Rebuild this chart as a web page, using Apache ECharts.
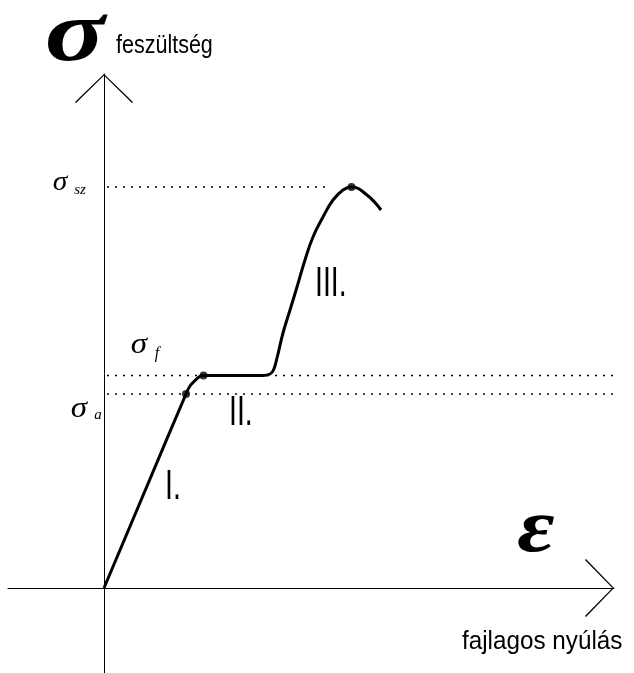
<!DOCTYPE html>
<html>
<head>
<meta charset="utf-8">
<script src="https://cdn.jsdelivr.net/npm/echarts@6/dist/echarts.min.js"></script>
<style>
  html, body { margin: 0; padding: 0; background: #fff; }
  #chart { width: 634px; height: 673px; }
</style>
</head>
<body>
<div id="chart"></div>
<script>
// Stress–strain curve of a ductile steel specimen (arbitrary units).
const strain = [0, 8.2, 8.6, 9.1, 9.5, 9.95, 15.9, 16.6, 16.95, 17.3, 17.9, 18.6, 19.3, 20.1, 20.9, 21.9, 22.9, 23.9, 24.75, 26.3, 27.7];
const stress = [0, 19.4, 20.2, 20.75, 21.1, 21.25, 21.25, 21.4, 21.8, 23.0, 25.5, 27.8, 30.1, 32.8, 35.1, 37.1, 38.8, 39.8, 40.1, 39.3, 37.8];

// Characteristic points on the curve: σa, σf, σsz
const keyPointIndex = [1, 5, 18];

// Dotted guides: stress level and where each guide stops along the strain axis
const guideLevels = [40.1, 21.25, 19.4];
const guideEnds = [22.3, 53, 53];
const guideStart = 0.3;

// Axis extents
const strainMin = -9.6, strainMax = 51;
const stressMin = -8.5, stressMax = 51.4;

const serif = "'Liberation Serif', 'Times New Roman', serif";
const sans = "'Liberation Sans', Arial, sans-serif";

// Open chevron arrowhead (pointing up in its own frame)
const chevron = 'path://M29 0 L58 28 L57 29 L29 1.6 L1 29 L0 28 Z';

const curve = strain.map((x, i) => [x, stress[i]]);
const keyPoints = keyPointIndex.map(i => [strain[i], stress[i]]);

const guideSeries = guideLevels.map((lvl, i) => ({
  type: 'line',
  data: [[guideStart, lvl], [guideEnds[i], lvl]],
  showSymbol: false,
  clip: false,
  silent: true,
  z: 1,
  lineStyle: { color: '#000', width: 1.3, type: [2, 6] }
}));

const axisCommon = {
  type: 'value',
  axisLine: {
    show: true,
    onZero: true,
    symbol: ['none', chevron],
    symbolSize: [58, 29],
    symbolOffset: [0, -14.5],
    lineStyle: { color: '#000', width: 1 }
  },
  axisTick: { show: false },
  axisLabel: { show: false },
  splitLine: { show: false }
};

// Text helper; sx squeezes or widens the glyphs horizontally
function txt(text, x, y, font, align, sx) {
  return {
    type: 'text', x, y, silent: true,
    scaleX: sx || 1,
    style: {
      text, font, fill: '#000',
      textAlign: align || 'center', align: align || 'center',
      textVerticalAlign: 'middle', verticalAlign: 'middle'
    }
  };
}

const chart = echarts.init(document.getElementById('chart'));
chart.setOption({
  animation: false,
  backgroundColor: '#fff',
  grid: { left: 8, right: 20, top: 74, bottom: 0, containLabel: false },
  xAxis: Object.assign({}, axisCommon, { min: strainMin, max: strainMax }),
  yAxis: Object.assign({}, axisCommon, { min: stressMin, max: stressMax }),
  series: guideSeries.concat([
    {
      type: 'line',
      data: curve,
      showSymbol: false,
      smooth: 0.45,
      z: 3,
      lineStyle: { color: '#000', width: 3 }
    },
    {
      type: 'scatter',
      data: keyPoints,
      symbol: 'circle',
      symbolSize: 8,
      z: 4,
      itemStyle: { color: '#000' }
    }
  ]),
  graphic: [
    txt('σ', 75, 38, 'italic bold 86px ' + serif, 'center', 1.3),
    txt('feszültség', 116, 46, '25px ' + sans, 'left', 0.86),
    txt('ε', 536, 531, 'italic bold 76px ' + serif, 'center', 1.2),
    txt('fajlagos nyúlás', 462, 642, '25px ' + sans, 'left', 0.97),
    txt('σ', 60, 183, 'italic 28px ' + serif, 'center', 1.05),
    txt('sz', 80, 190, 'italic 15px ' + serif),
    txt('σ', 139, 345, 'italic 30px ' + serif, 'center', 1.1),
    txt('f', 157, 354, 'italic 16px ' + serif),
    txt('σ', 79, 409, 'italic 30px ' + serif, 'center', 1.1),
    txt('a', 98, 415, 'italic 15px ' + serif),
    txt('I.', 165, 487, '42px ' + sans, 'left', 0.68),
    txt('II.', 229, 413, '42px ' + sans, 'left', 0.68),
    txt('III.', 315, 284, '42px ' + sans, 'left', 0.68)
  ]
});
</script>
</body>
</html>
